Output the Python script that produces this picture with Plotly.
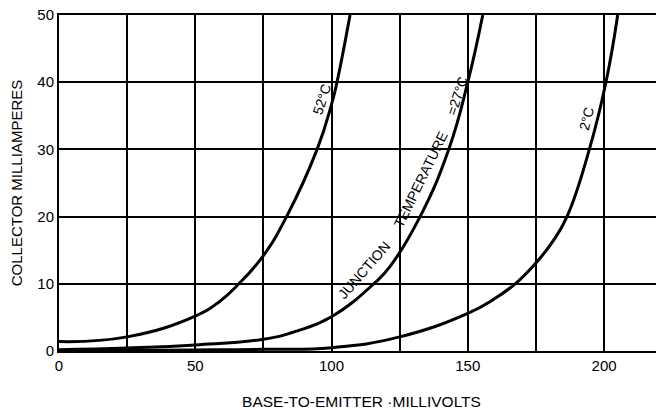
import plotly.graph_objects as go

# Data
mv_52 = [0, 25, 50, 58.7, 66, 75, 83.5, 94.7, 100, 102, 106.8]
ma_52 = [1.4, 2.1, 5.2, 7.3, 10, 14.2, 20, 30, 36.7, 40, 50]

mv_27 = [0, 25, 50, 75, 87.5, 100, 115.5, 121.5, 132.5, 143, 150, 155.5]
ma_27 = [0.2, 0.45, 0.9, 1.75, 3.0, 5.1, 10, 12.6, 20, 30, 40, 50]

mv_2 = [0, 25, 50, 75, 100, 125, 150, 159.5, 167.4, 175, 181, 186.4, 194.6, 200.7, 205]
ma_2 = [0.05, 0.1, 0.15, 0.25, 0.5, 2.1, 5.6, 7.7, 10, 13.1, 16.2, 20, 30, 40, 50]

x_ticks = [0, 25, 50, 75, 100, 125, 150, 175, 200]
x_ticktext = ["0", "", "50", "", "100", "", "150", "", "200"]
y_ticks = [0, 10, 20, 30, 40, 50]

FONT = "Liberation Sans, Arial, sans-serif"

fig = go.Figure()
for xs, ys in [(mv_52, ma_52), (mv_27, ma_27), (mv_2, ma_2)]:
    fig.add_trace(go.Scatter(x=xs, y=ys, mode="lines",
                             line=dict(color="black", width=3, shape="spline", smoothing=1.3),
                             showlegend=False, hoverinfo="skip", cliponaxis=True))

labels = [
    ("52°C", 96.5, 37.5, -72),
    ("JUNCTION", 112.0, 12.0, -49),
    ("TEMPERATURE", 132.8, 25.6, -64),
    ("=27°C", 146.0, 38.0, -72),
    ("2°C", 193.8, 34.6, -76),
]
for txt, x, y, ang in labels:
    fig.add_annotation(x=x, y=y, text=txt, showarrow=False, textangle=ang,
                       font=dict(family=FONT, size=14, color="black"))

# page has an 8px body margin, so the figure is sized/offset to compensate
fig.update_layout(
    width=656, height=402,
    margin=dict(l=51, r=0, t=7, b=59, autoexpand=False),
    paper_bgcolor="white", plot_bgcolor="white",
    font=dict(family=FONT, color="black"),
    xaxis=dict(range=[0, 222], tickvals=x_ticks, ticktext=x_ticktext,
               showgrid=True, gridcolor="black", gridwidth=1.5,
               showline=True, linecolor="black", linewidth=2, mirror=True,
               zeroline=False, ticks="", tickfont=dict(size=15), automargin=False,
               title=dict(text="BASE-TO-EMITTER ·MILLIVOLTS", font=dict(size=15.5), standoff=25)),
    yaxis=dict(range=[0, 50], tickvals=y_ticks,
               showgrid=True, gridcolor="black", gridwidth=1.5,
               showline=True, linecolor="black", linewidth=2,
               zeroline=False, ticks="", tickfont=dict(size=15), automargin=False,
               ticklabeloverflow="allow",
               title=dict(text="COLLECTOR MILLIAMPERES", font=dict(size=15), standoff=14)),
)

fig.write_html("out.html")
